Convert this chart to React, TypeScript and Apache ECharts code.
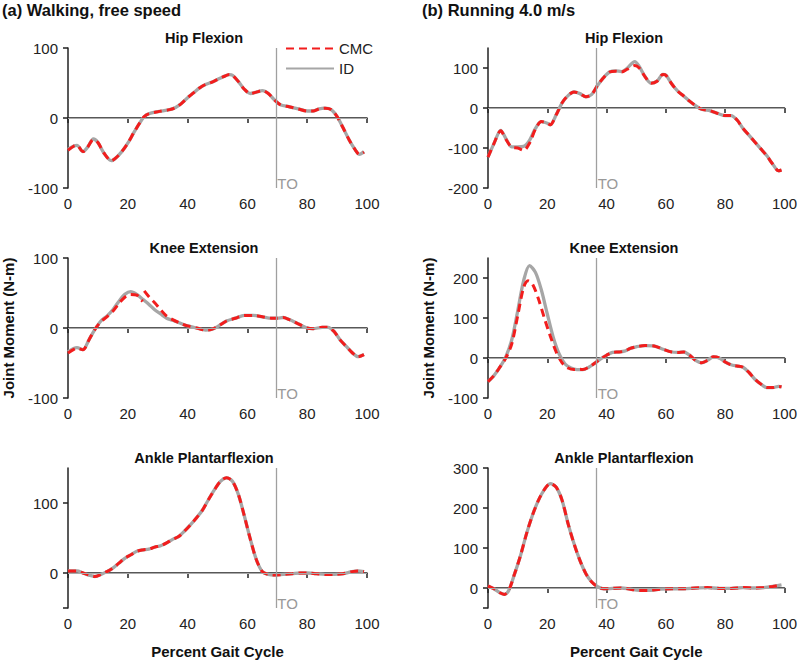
import React, { useEffect, useRef } from "react";
import * as echarts from "echarts";

// ---------- data ----------
const xTicks = [0, 20, 40, 60, 80, 100];
const walkTO = 69.5;
const runTO = 36.5;

const walkHipID = [[0,-45],[2,-40],[3,-39],[5,-48],[6.5,-42],[8.5,-30],[10,-35],[12,-50],[14.5,-61],[16,-57],[18,-48],[20,-36],[22,-21],[24,-7],[25.5,2],[27,6],[30,9],[34,12],[36,15],[38,21],[40,29],[42,36],[44,43],[46,48],[48,51],[50,55],[52,59],[54,62],[55,61],[57,52],[59,41],[61,35],[63,37],[65,39],[67,35],[69,26],[71,19],[74,16],[77,13],[80,10],[82,10],[84,13],[86,14],[88,12],[90,2],[92,-14],[94,-31],[96,-45],[97.5,-52],[99,-48]];
const walkHipCMC = [[0,-46],[2,-40],[3,-39],[5,-48],[6.5,-42],[8.5,-31],[10,-35],[12,-50],[14.5,-61],[16,-57],[18,-48],[20,-36],[22,-21],[24,-7],[25.5,2],[27,6],[30,9],[34,12],[36,15],[38,21],[40,29],[42,36],[44,43],[46,48],[48,51],[50,55],[52,59],[54,62],[55,61],[57,52],[59,41],[61,35],[63,37],[65,39],[67,35],[69,26],[71,19],[74,16],[77,13],[80,10],[82,10],[84,13],[86,14],[88,12],[90,2],[92,-14],[94,-31],[96,-45],[97.5,-52],[99,-49]];

const runHipID = [[0,-123],[2,-89],[4.3,-56],[6,-76],[8,-97],[10,-97],[12,-96],[14,-81],[16,-51],[18,-34],[20,-38],[21,-42],[23,-17],[25,13],[27,31],[29,40],[31,36],[33,28],[35,34],[37,57],[39,76],[41,90],[43,93],[45,91],[47,100],[49.5,116],[51,104],[53,78],[55,62],[57,67],[59,84],[60,82],[62,60],[64,42],[66,30],[68,17],[70,6],[72,-3],[75,-7],[78,-15],[80,-19],[82,-19],[84,-30],[86,-51],[88,-68],[90,-85],[92,-102],[94,-119],[96,-140],[98,-157],[99,-155]];
const runHipCMC = [[0,-123],[2,-89],[4.3,-57],[6,-78],[8,-98],[10,-100],[12,-106],[14,-88],[16,-53],[18,-34],[20,-38],[21,-42],[23,-17],[25,13],[27,31],[29,40],[31,36],[33,28],[35,34],[37,57],[39,76],[41,90],[43,92],[45,90],[47,97],[49.5,106],[51,100],[53,78],[55,62],[57,67],[59,84],[60,82],[62,60],[64,42],[66,30],[68,17],[70,6],[72,-3],[75,-7],[78,-15],[80,-19],[82,-19],[84,-30],[86,-51],[88,-68],[90,-85],[92,-102],[94,-119],[96,-140],[98,-157],[99,-155]];

const walkKneeID = [[0,-34],[3,-28],[5,-31],[7,-17],[9,-2],[11,10],[13,17],[15,26],[17,38],[19,48],[21,52],[23,48],[25,41],[27,34],[29,26],[31,20],[33,14],[35,11],[38,6],[40,3],[43,0],[46,-3],[48,-2],[50,2],[53,10],[56,14],[59,18],[62,18],[65,16],[68,14],[70,14],[72,15],[74,12],[77,6],[80,0],[82,-1],[85,1],[87,1],[89,-5],[91,-17],[93,-26],[95,-35],[97,-41],[99,-38]];
const walkKneeCMC = [[0,-36],[3,-29],[5,-31],[7,-17],[9,-2],[11,9],[13,16],[15,24],[17,35],[19,44],[21,48],[23,47],[24.5,40],[25,38],[25.2,"-"],[25.5,53],[27,45],[29,36],[31,26],[33,17],[35,12],[38,6],[40,3],[43,0],[46,-3],[48,-2],[50,2],[53,10],[56,14],[59,18],[62,18],[65,16],[68,14],[70,14],[72,15],[74,12],[77,6],[80,0],[82,-1],[85,1],[87,1],[89,-5],[91,-17],[93,-26],[95,-35],[97,-41],[99,-38]];

const runKneeID = [[0,-59],[2,-44],[4,-23],[6,3],[8,45],[10,117],[12,193],[14,231],[16,214],[18,170],[20,110],[22,52],[24,10],[26,-15],[28,-25],[30,-29],[32,-29],[34,-23],[36,-13],[38,-2],[40,7],[42,14],[44,15],[46,17],[48,24],[50,28],[53,31],[56,30],[59,22],[62,15],[64,14],[66,15],[68,7],[70,-6],[72,-12],[74,-6],[76,3],[78,0],[80,-10],[82,-17],[84,-20],[86,-23],[88,-36],[90,-53],[92,-65],[94,-74],[96,-74],[98,-71],[99,-72]];
const runKneeCMC = [[0,-59],[2,-44],[4,-23],[6,0],[8,35],[10,105],[12,176],[13.5,193],[15,185],[17,148],[19,100],[21,55],[23,15],[25,-12],[27,-25],[29,-29],[31,-28],[32,-29],[34,-23],[36,-13],[38,-2],[40,7],[42,14],[44,15],[46,17],[48,24],[50,28],[53,31],[56,30],[59,22],[62,15],[64,14],[66,15],[68,7],[70,-6],[72,-12],[74,-6],[76,3],[78,0],[80,-10],[82,-17],[84,-20],[86,-23],[88,-36],[90,-53],[92,-65],[94,-74],[96,-74],[98,-71],[99,-72]];

const walkAnkleID = [[0,3],[3,3],[5,0],[7,-3],[9,-5],[11,-2],[13,2],[15,7],[17,14],[19,21],[21,26],[23,31],[25,33],[27,34],[29,37],[31,39],[33,43],[35,48],[37,52],[39,60],[41,69],[43,79],[45,90],[47,105],[49,119],[51,131],[53,136],[55,131],[57,112],[59,81],[61,48],[63,19],[65,2],[67,-2],[69,-3],[72,-2],[75,-1],[78,0],[80,0],[83,-1],[86,-2],[89,-2],[92,-1],[95,2],[97,3],[99,2]];
const walkAnkleCMC = walkAnkleID;

const runAnkleID = [[0,5],[2,-2],[4,-12],[5.5,-16],[7,-6],[9,36],[11,82],[13,136],[15,182],[17,219],[19,246],[21,261],[23,252],[25,219],[27,161],[29,111],[31,69],[33,36],[35,15],[37,3],[39,-2],[42,-1],[45,0],[48,-3],[51,-6],[54,-6],[58,-3],[62,-2],[66,-2],[70,0],[74,1],[78,-1],[82,-1],[86,1],[90,0],[93,1],[96,4],[99,8]];
const runAnkleCMC = runAnkleID;

const panelTitles = ["Hip Flexion", "Knee Extension", "Ankle Plantarflexion"];
const columnTitles = ["(a) Walking, free speed", "(b) Running 4.0 m/s"];
const yLimits = [[-100, 100], [-200, 150], [-100, 100], [-100, 250], [-50, 150], [-50, 300]];
const yLabelValues = [[-100, 0, 100], [-200, -100, 0, 100], [-100, 0, 100], [-100, 0, 100, 200], [0, 100], [0, 100, 200, 300]];
const yTickValues = [[-100, 0, 100], [-200, -100, 0, 100], [-100, 0, 100], [-100, 0, 100, 200], [-50, 0, 100], [-50, 0, 100, 200, 300]];

const idData = [walkHipID, runHipID, walkKneeID, runKneeID, walkAnkleID, runAnkleID];
const cmcData = [walkHipCMC, runHipCMC, walkKneeCMC, runKneeCMC, walkAnkleCMC, runAnkleCMC];
const toValues = [walkTO, runTO];

// ---------- layout ----------
const FONT = 'Arial, "Liberation Sans", Helvetica, sans-serif';
const gridLefts = [68, 488];
const gridTops = [48, 258, 468];
const gridW = 299;
const gridH = 140;
const titleCenters = [204, 624];
const titleTops = [30, 240, 450];
const RED = "#f21d1d";
const GRAY = "#a6a6a6";
const AXIS = "#222";

function buildOption() {
  const grid: any[] = [];
  const xAxis: any[] = [];
  const yAxis: any[] = [];
  const series: any[] = [];
  const title: any[] = [];

  columnTitles.forEach((t, c) => {
    title.push({
      text: t,
      left: c === 0 ? 2 : 422,
      top: 1,
      padding: 0,
      textStyle: { fontFamily: FONT, fontSize: 16.5, fontWeight: "bold", color: "#111" },
    });
  });

  for (let i = 0; i < 6; i++) {
    const row = Math.floor(i / 2);
    const col = i % 2;
    title.push({
      text: panelTitles[row],
      left: titleCenters[col],
      top: titleTops[row],
      padding: 0,
      textAlign: "center",
      textStyle: { fontFamily: FONT, fontSize: 14.5, fontWeight: "bold", color: "#111" },
    });
    grid.push({ left: gridLefts[col], top: gridTops[row], width: gridW, height: gridH });
    xAxis.push({
      type: "value",
      gridIndex: i,
      min: 0,
      max: 100,
      interval: 20,
      name: row === 2 ? "Percent Gait Cycle" : "",
      nameLocation: "middle",
      nameGap: 36,
      nameTextStyle: { fontFamily: FONT, fontSize: 15, fontWeight: "bold", color: "#111" },
      axisLine: { show: true, lineStyle: { color: AXIS, width: 1.5 } },
      axisTick: { show: true, length: 5, lineStyle: { color: AXIS, width: 1.5 }, customValues: xTicks },
      axisLabel: { fontFamily: FONT, fontSize: 15, color: AXIS, margin: 8, customValues: xTicks },
      splitLine: { show: false },
    });
    yAxis.push({
      type: "value",
      gridIndex: i,
      min: yLimits[i][0],
      max: yLimits[i][1],
      name: row === 1 ? "Joint Moment (N-m)" : "",
      nameLocation: "middle",
      nameGap: 52,
      nameTextStyle: { fontFamily: FONT, fontSize: 15, fontWeight: "bold", color: "#111" },
      axisLine: { show: true, onZero: false, lineStyle: { color: AXIS, width: 1.5 } },
      axisTick: { show: true, length: 5, lineStyle: { color: AXIS, width: 1.5 }, customValues: yTickValues[i] },
      axisLabel: { fontFamily: FONT, fontSize: 15, color: AXIS, margin: 10, customValues: yLabelValues[i] },
      splitLine: { show: false },
    });
    const to = toValues[col];
    series.push({
      name: "ref",
      type: "line",
      xAxisIndex: i,
      yAxisIndex: i,
      data: [],
      z: 1,
      silent: true,
      markLine: {
        silent: true,
        symbol: ["none", "none"],
        label: { show: false },
        lineStyle: { color: "#aaa", type: "solid", width: 1 },
        data: [{ yAxis: 0 }, { xAxis: to, lineStyle: { color: "#a0a0a0", width: 1.3 } }],
      },
      markPoint: {
        silent: true,
        symbol: "rect",
        symbolSize: 1,
        itemStyle: { color: "rgba(0,0,0,0)" },
        label: {
          show: true,
          formatter: "TO",
          position: [2, 3],
          align: "left",
          verticalAlign: "bottom",
          fontFamily: FONT,
          fontSize: 15,
          color: "#999",
        },
        data: [{ coord: [to, yLimits[i][0]] }],
      },
    });
    series.push({
      name: "ID",
      type: "line",
      xAxisIndex: i,
      yAxisIndex: i,
      data: idData[i],
      symbol: "circle",
      showSymbol: false,
      smooth: 0.3,
      z: 2,
      lineStyle: { color: GRAY, width: 3.3 },
      itemStyle: { color: GRAY, opacity: 0 },
    });
    series.push({
      name: "CMC",
      type: "line",
      xAxisIndex: i,
      yAxisIndex: i,
      data: cmcData[i],
      symbol: "circle",
      showSymbol: false,
      smooth: 0.3,
      connectNulls: false,
      z: 3,
      lineStyle: { color: RED, width: 3, type: [8, 5] },
      itemStyle: { color: RED, opacity: 0 },
    });
  }

  return {
    animation: false,
    backgroundColor: "#fff",
    textStyle: { fontFamily: FONT },
    title,
    legend: {
      data: ["CMC", "ID"],
      orient: "vertical",
      left: 285,
      top: 41,
      padding: 0,
      itemWidth: 48,
      itemHeight: 14,
      itemGap: 5,
      itemStyle: { opacity: 0 },
      textStyle: { fontFamily: FONT, fontSize: 15, color: "#222" },
      selectedMode: false,
    },
    grid,
    xAxis,
    yAxis,
    series,
  };
}

export default function App() {
  const ref = useRef<HTMLDivElement>(null);
  useEffect(() => {
    document.body.style.margin = "0";
    if (!ref.current) return;
    const chart = echarts.init(ref.current, undefined, { renderer: "svg" });
    chart.setOption(buildOption() as any);
    return () => chart.dispose();
  }, []);
  return <div ref={ref} style={{ width: 800, height: 660 }} />;
}
